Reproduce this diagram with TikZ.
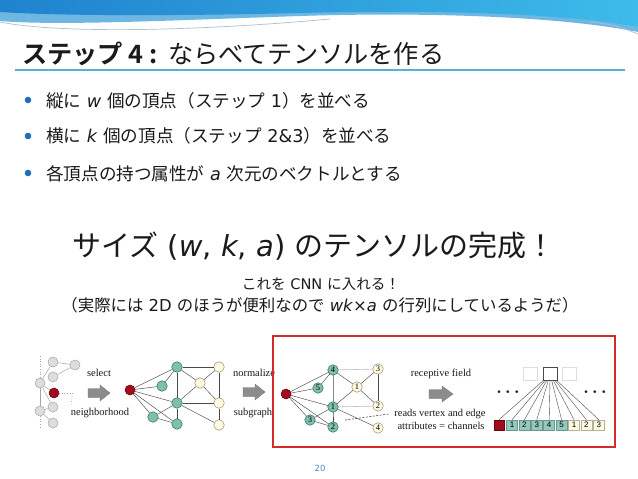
\documentclass[tikz,border=0pt]{standalone}
\usepackage{fontspec}
\setmainfont{DejaVu Sans}
\newfontfamily\jp{Noto Sans CJK JP}[BoldFont={Noto Sans CJK JP Bold}]
\newfontfamily\serifd{Liberation Serif}
\newfontfamily\sansd{Liberation Sans}
\usetikzlibrary{calc}
\definecolor{hdrA}{HTML}{1F82CE}
\definecolor{hdrB}{HTML}{3DBBEA}
\definecolor{hdrL}{HTML}{6DB7E2}
\definecolor{hdrLine}{HTML}{A9BFD2}
\definecolor{uline}{HTML}{5AAFD8}
\definecolor{bulletc}{HTML}{1E6DB8}
\definecolor{txt}{HTML}{1A1A1A}
\definecolor{redn}{HTML}{A30C1B}
\definecolor{redd}{HTML}{6A0010}
\definecolor{tealf}{HTML}{7FBFAE}
\definecolor{teald}{HTML}{2E6B5E}
\definecolor{creamf}{HTML}{FDF9E2}
\definecolor{creamd}{HTML}{9A8E66}
\definecolor{grayf}{HTML}{DDDDDD}
\definecolor{grayd}{HTML}{A5A5A5}
\definecolor{boxred}{HTML}{D42A2A}
\definecolor{arrowg}{HTML}{8C8C8C}
\definecolor{pnum}{HTML}{4F8AC4}
\definecolor{edgec}{HTML}{4A4A4A}
\definecolor{lightedge}{HTML}{BDBDBD}
\tikzset{
  gn/.style={circle, fill=grayf, draw=grayd, line width=0.5pt, minimum size=10pt, inner sep=0pt},
  rn/.style={circle, fill=redn, draw=redd, line width=0.5pt, minimum size=10pt, inner sep=0pt},
  tn/.style={circle, fill=tealf, draw=teald, line width=0.5pt, minimum size=10.5pt, inner sep=0pt, font=\serifd\fontsize{8.5}{9}\selectfont},
  cn/.style={circle, fill=creamf, draw=creamd, line width=0.5pt, minimum size=10.5pt, inner sep=0pt, font=\serifd\fontsize{8.5}{9}\selectfont},
  ed/.style={draw=edgec, line width=0.45pt},
  led/.style={draw=lightedge, line width=0.6pt},
  ged/.style={draw=grayd, line width=0.5pt},
  dot/.style={draw=grayd, line width=0.6pt, dotted},
  blockarrow/.style={fill=arrowg, draw=arrowg!80!black, line width=0.3pt},
  lbl/.style={font=\serifd\fontsize{10.5}{12}\selectfont, text=txt, inner sep=0pt, anchor=base},
  bsq/.style={rectangle, minimum width=11pt, minimum height=10pt, inner sep=0pt, line width=0.5pt, font=\sansd\fontsize{8}{9}\selectfont},
  tsq/.style={rectangle, minimum width=14pt, minimum height=13pt, inner sep=0pt, fill=white},
  fan/.style={draw=edgec, line width=0.4pt},
  bullettext/.style={anchor=base west, inner sep=0pt, text=txt, font=\fontsize{17.6}{21}\selectfont},
  dotsnode/.style={font=\fontsize{17}{18}\selectfont\boldmath, text=txt, inner sep=0pt},
}
\begin{document}
\begin{tikzpicture}[x=1pt,y=-1pt]
\useasboundingbox (0,0) rectangle (638,479);
\fill[white] (0,0) rectangle (638,479);
% header wave
\fill[hdrL] (0,0) -- (638,0) -- (638,32) .. controls (560,16) and (420,12) .. (300,16) .. controls (180,20) and (60,26) .. (0,21) -- cycle;
\shade[left color=hdrA, right color=hdrB] (0,0) -- (638,0) -- (638,27) .. controls (560,12) and (420,10) .. (300,13) .. controls (180,16) and (60,16) .. (0,12) -- cycle;
\coordinate (w1) at (0,22);
\coordinate (w2) at (330,19);
\coordinate (w3) at (590,22);
\coordinate (w4) at (638,34);
\draw[hdrLine, line width=0.7pt] (w1) .. controls (60,34) and (200,31) .. (w2);
\draw[hdrLine, line width=0.7pt] (w3) .. controls (615,25) .. (w4);
% title
\node[anchor=base west, inner sep=0pt, text=txt] (title) at (22,63) {\fontsize{25.2}{30}\selectfont{\jp\bfseries ステップ 4 :} {\jp ならべてテンソルを作る}};
\coordinate (ul1) at (15,70);
\coordinate (ul2) at (625,70);
\draw[uline, line width=2pt] (ul1) -- (ul2);
% bullets
\fill[bulletc] (28,100) circle (3.3);
\fill[bulletc] (28,136) circle (3.3);
\fill[bulletc] (28,173) circle (3.3);
\node[bullettext] (b1) at (46,107) {{\jp 縦に} \textit{w} {\jp 個の頂点（ステップ} 1{\jp ）を並べる}};
\node[bullettext] (b2) at (46,142) {{\jp 横に} \textit{k} {\jp 個の頂点（ステップ} 2\&3{\jp ）を並べる}};
\node[bullettext] (b3) at (46,180) {{\jp 各頂点の持つ属性が} \textit{a} {\jp 次元のベクトルとする}};
% big text
\node[anchor=base west, inner sep=0pt, text=txt] (big) at (72,256) {\fontsize{29}{34}\selectfont{\jp サイズ} (\textit{w}, \textit{k}, \textit{a}) {\jp のテンソルの完成！}};
\node[anchor=base, inner sep=0pt, text=txt] (cnn) at (321,289) {\fontsize{14.6}{17}\selectfont{\jp これを} CNN {\jp に入れる！}};
\node[anchor=base, inner sep=0pt, text=txt] (note) at (320,311) {\fontsize{16.4}{19}\selectfont{\jp （実際には} 2D {\jp のほうが便利なので} \textit{wk}×\textit{a} {\jp の行列にしているようだ）}};
% ---------- graph 1 ----------
\node[gn] (g1) at (53,362) {};
\node[gn] (g2) at (75,365) {};
\node[gn] (g3) at (53,377) {};
\node[gn] (g4) at (40,383) {};
\node[gn] (g5) at (53,407) {};
\node[gn] (g6) at (40,411) {};
\node[gn] (g7) at (53,423) {};
\node[rn] (r0) at (54,393) {};
\draw[ged] (g4) -- (g1);
\draw[ged] (g1) -- (g2);
\draw[ged] (g3) -- (g2);
\draw[ged] (g4) -- (r0);
\draw[ged] (g4) -- (g5);
\draw[ged] (g4) -- (g6);
\draw[ged] (g6) -- (g5);
\draw[ged] (g6) -- (g7);
\coordinate (d1) at (40,356);
\coordinate (d2) at (74,393);
\coordinate (d3) at (72,396);
\coordinate (d4) at (71,406);
\coordinate (d5) at (40,429);
\draw[dot] (d1) -- (g4);
\draw[dot] (r0) -- (d2);
\draw[dot] (d3) -- (d4);
\draw[dot] (g6) -- (d5);
% select arrow
\coordinate (s1) at (88,393);
\fill[blockarrow] (s1) ++(0,-4.5) -- ++(12,0) -- ++(0,-3.5) -- ++(10,8) -- ++(-10,8) -- ++(0,-3.5) -- ++(-12,0) -- cycle;
\node[lbl] (sel) at (99,376) {select};
\node[lbl] (nbh) at (100,415) {neighborhood};
% ---------- graph 2 ----------
\node[rn] (rm) at (130,390) {};
\node[tn] (t1) at (177,367) {};
\node[tn] (t2) at (162,386) {};
\node[tn] (t3) at (177,403) {};
\node[tn] (t4) at (153,417) {};
\node[tn] (t5) at (177,424) {};
\node[cn] (c1) at (219,367) {};
\node[cn] (c2) at (200,383) {};
\node[cn] (c3) at (219,403) {};
\node[cn] (c4) at (219,425) {};
\foreach \a/\b in {rm/t1, rm/t2, rm/t3, rm/t4, rm/t5, t1/t2, t1/c1, t1/c2, t1/t3, t3/c2, t3/c3, t3/t4, t3/t5, t4/t5, c2/c1, c2/c3, c1/c3, c3/c4, t3/c4}
  \draw[ed] (\a) -- (\b);
% normalize arrow
\coordinate (s2) at (243,392);
\fill[blockarrow] (s2) ++(0,-4.5) -- ++(12,0) -- ++(0,-3.5) -- ++(10,8) -- ++(-10,8) -- ++(0,-3.5) -- ++(-12,0) -- cycle;
\node[lbl] (nrm) at (254,376) {normalize};
\node[lbl] (sub) at (253,415) {subgraph};
% ---------- graph 3 ----------
\coordinate (P1) at (286,394);
\coordinate (P4) at (333,370);
\coordinate (P5) at (318,388);
\coordinate (P2) at (333,407);
\coordinate (P3) at (310,420);
\coordinate (P6) at (333,427);
\coordinate (Q1) at (357,387);
\coordinate (Q3) at (378,369);
\coordinate (Q2) at (378,406);
\coordinate (Q4) at (378,428);
\foreach \a/\b in {P1/P4, P1/P5, P1/P2, P1/P3, P1/P6, P4/P5, P4/Q1, Q1/P2, Q1/Q3, Q1/Q2, Q3/Q2, P2/P3, P3/P6, P2/Q4}
  \draw[ed] (\a) -- (\b);
\draw[led] (P4) -- (Q3);
\draw[led] (P2) -- (Q2);
\draw[ed, line width=0.6pt] (P4) -- (P2) -- (P6);
\node[rn] (rr) at (P1) {};
\node[tn] (n4) at (P4) {4};
\node[tn] (n5) at (P5) {5};
\node[tn] (n1) at (P2) {1};
\node[tn] (n3) at (P3) {3};
\node[tn] (n2) at (P6) {2};
\node[cn] (m1) at (Q1) {1};
\node[cn] (m3) at (Q3) {3};
\node[cn] (m2) at (Q2) {2};
\node[cn] (m4) at (Q4) {4};
\coordinate (ds1) at (345,420);
\coordinate (ds2) at (389,414);
\draw[edgec, line width=0.6pt, dash pattern=on 2pt off 1.5pt] (ds1) -- (ds2);
% receptive arrow
\coordinate (s3) at (429,394);
\fill[blockarrow] (s3) ++(0,-4.5) -- ++(13,0) -- ++(0,-3.5) -- ++(11,8) -- ++(-11,8) -- ++(0,-3.5) -- ++(-13,0) -- cycle;
\node[lbl] (rf) at (441,376) {receptive field};
\node[lbl] (rv) at (440,416) {reads vertex and edge};
\node[lbl] (ac) at (441,429) {attributes = channels};
% ---------- tensor ----------
\node[tsq, draw=grayf] (tl) at (530,373.5) {};
\node[tsq, draw=edgec, line width=0.6pt] (tm) at (550,373.5) {};
\node[tsq, draw=grayf] (tr) at (569,373.5) {};
\node[bsq, minimum width=10pt, fill=redn, draw=redd] (q0) at (499,425) {};
\foreach \i in {1,...,5}
  \node[bsq, fill=tealf!85!white, draw=teald!70!white] (q\i) at ({512+12.4*(\i-1)},425) {\i};
\foreach \i/\l in {6/1,7/2,8/3}
  \node[bsq, fill=creamf, draw=creamd!70!white] (q\i) at ({512+12.4*(\i-1)},425) {\l};
\foreach \i in {0,...,8}
  \draw[fan] ($(tm.south west)!{(\i+0.5)/9}!(tm.south east)$) -- (q\i.north);
\node[dotsnode] (dl) at (508,392) {$\cdots$};
\node[dotsnode] (dr) at (595,392) {$\cdots$};
% red frame
\node[draw=boxred, line width=1.6pt, minimum width=342pt, minimum height=111pt, inner sep=0pt] (frame) at (444,391.5) {};
% page number
\node[text=pnum, font=\fontsize{8.5}{10}\selectfont] (pg) at (320,468) {20};
\end{tikzpicture}
\end{document}
